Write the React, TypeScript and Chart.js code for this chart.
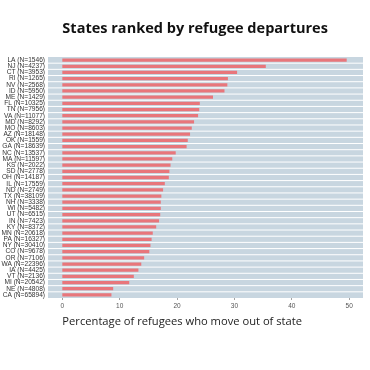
import React, { useEffect, useRef } from "react";
import { Chart, registerables } from "chart.js";

Chart.register(...registerables);

const states = ["LA","NJ","CT","RI","NV","ID","ME","FL","TN","VA","MD","MO","AZ","OK","GA","NC","MA","KS","SD","OH","IL","ND","TX","NH","WI","UT","IN","KY","MN","PA","NY","CO","OR","WA","IA","VT","MI","NE","CA"];
const refugeeCounts = [1546,4237,3953,1265,2568,5950,1429,10325,7956,11077,8292,8603,18148,1559,18639,13537,11597,2022,2778,14187,17559,2749,38109,3338,5482,6515,7423,8372,20618,16327,30410,9678,7106,22396,4425,2136,20542,4808,65894];
const pctMoveOut = [49.5,35.4,30.4,28.8,28.7,28.2,26.2,23.9,23.8,23.6,22.9,22.5,22.2,21.8,21.6,19.7,19.1,18.8,18.6,18.5,17.8,17.5,17.2,17.1,17.1,17.0,16.8,16.3,15.7,15.5,15.3,15.1,14.2,13.7,13.2,12.4,11.6,8.8,8.5];
const xTicks = [0,10,20,30,40,50];
const titleText = "States ranked by refugee departures";
const xTitleText = "Percentage of refugees who move out of state";

const labels = states.map((s, i) => `${s} (N=${refugeeCounts[i]})`);

const PANEL = "#c8d6e0";
const BAR = "#e8767b";

const fitFont = (ctx: CanvasRenderingContext2D, text: string, weight: string, family: string, target: number) => {
  let size = 10;
  ctx.font = `${weight} ${size}px ${family}`;
  const w = ctx.measureText(text).width;
  size = (size * target) / w;
  return `${weight} ${size}px ${family}`;
};

const decor = {
  id: "decor",
  beforeDatasetsDraw(chart: any) {
    const { ctx, chartArea: a } = chart;
    ctx.save();
    ctx.fillStyle = PANEL;
    ctx.fillRect(a.left, a.top, a.right - a.left, a.bottom - a.top);
    const y = chart.scales.y;
    ctx.strokeStyle = "#ffffff";
    ctx.lineWidth = 1;
    for (let i = 1; i < labels.length; i++) {
      const p = (y.getPixelForValue(i - 1) + y.getPixelForValue(i)) / 2;
      ctx.beginPath();
      ctx.moveTo(a.left, p);
      ctx.lineTo(a.right, p);
      ctx.stroke();
    }
    ctx.restore();
  },
  afterDraw(chart: any) {
    const { ctx } = chart;
    const x0 = chart.scales.x.getPixelForValue(0);
    ctx.save();
    ctx.fillStyle = "#111111";
    ctx.textAlign = "left";
    ctx.textBaseline = "alphabetic";
    ctx.font = fitFont(ctx, titleText, "bold", "'Open Sans', sans-serif", 266);
    ctx.fillText(titleText, x0, 33);
    ctx.fillStyle = "#222222";
    ctx.font = fitFont(ctx, xTitleText, "normal", "'Open Sans', sans-serif", 240);
    ctx.fillText(xTitleText, x0, 325);
    ctx.restore();
  },
};

export default function App() {
  const ref = useRef<HTMLCanvasElement | null>(null);
  useEffect(() => {
    if (!ref.current) return;
    const chart = new Chart(ref.current, {
      type: "bar",
      data: {
        labels,
        datasets: [
          {
            data: pctMoveOut,
            backgroundColor: BAR,
            barThickness: 2.6,
            borderWidth: 0,
          },
        ],
      },
      options: {
        indexAxis: "y",
        animation: false,
        responsive: false,
        maintainAspectRatio: false,
        layout: { padding: { top: 57, right: 7, bottom: 58, left: 0 } },
        plugins: { legend: { display: false }, tooltip: { enabled: false }, title: { display: false } },
        scales: {
          x: {
            type: "linear",
            min: -2.5,
            max: 52.4,
            afterBuildTicks: (s: any) => {
              s.ticks = xTicks.map((v) => ({ value: v }));
            },
            afterFit: (s: any) => {
              s.height = 14;
            },
            border: { display: false },
            grid: { drawOnChartArea: false, drawTicks: true, tickLength: 2, color: "#666666", lineWidth: 0.6 },
            ticks: { font: { size: 6.5, family: "'Liberation Sans', Arial, sans-serif" }, color: "#555555", padding: 2, maxRotation: 0 },
          },
          y: {
            type: "category",
            afterFit: (s: any) => {
              s.width = 48;
            },
            border: { display: false },
            grid: { display: false, drawTicks: false, tickLength: 0 },
            ticks: { font: { size: 6.6, family: "'Liberation Sans', Arial, sans-serif" }, color: "#333333", padding: 3, autoSkip: false },
          },
        },
      },
      plugins: [decor],
    });
    return () => chart.destroy();
  }, []);
  return (
    <div style={{ position: "fixed", left: 0, top: 0, width: 370, height: 370, background: "#ffffff" }}>
      <canvas ref={ref} width={370} height={370} style={{ width: 370, height: 370 }} />
    </div>
  );
}
